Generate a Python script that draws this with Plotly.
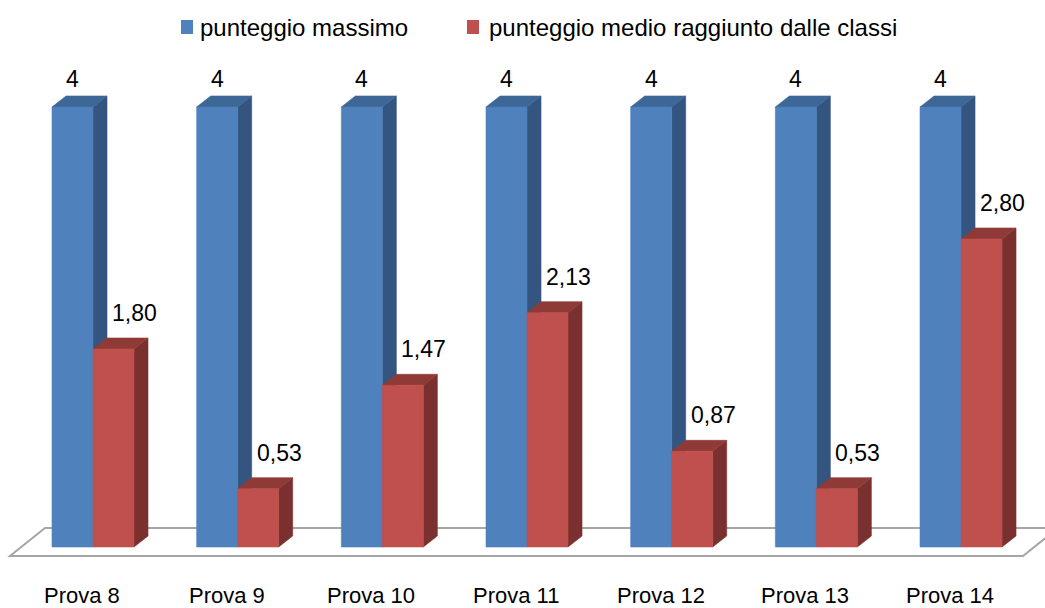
import plotly.graph_objects as go

# ---------------- data ----------------
categories = ["Prova 8", "Prova 9", "Prova 10", "Prova 11", "Prova 12", "Prova 13", "Prova 14"]
punteggio_massimo = [4, 4, 4, 4, 4, 4, 4]
punteggio_medio = [1.80, 0.53, 1.47, 2.13, 0.87, 0.53, 2.80]
series_names = ["punteggio massimo", "punteggio medio raggiunto dalle classi"]

# ---------------- layout geometry (pixels) ----------------
W, H = 1045, 608
X0_PX, STEP_PX = 93.0, 144.67      # first group centre, spacing
Y0_PX, UNIT_PX = 547.0, 110.0      # baseline, pixels per point
BAR_W = 41.0 / STEP_PX
DX = 14.0 / STEP_PX
DY = 11.0 / UNIT_PX
FAMILY = "Liberation Sans, Arial, sans-serif"
FONT = dict(family=FAMILY, size=23, color="#000000")
CAT_FONT = dict(family=FAMILY, size=22, color="#000000")
LEG_FONT = dict(family=FAMILY, size=24, color="#000000")

BLUE = dict(front="#4F81BD", side="#33557F", top="#3D6796")
RED = dict(front="#C0504D", side="#7A302E", top="#8F3A37")


def fmt(v):
    return str(int(v)) if float(v).is_integer() else f"{v:.2f}".replace(".", ",")


def faces(lefts, vals):
    fx, fy, sx, sy, tx, ty = [], [], [], [], [], []
    for xl, v in zip(lefts, vals):
        xr = xl + BAR_W
        fx += [xl, xr, xr, xl, xl, None]
        fy += [0, 0, v, v, 0, None]
        sx += [xr, xr + DX, xr + DX, xr, xr, None]
        sy += [0, DY, v + DY, v, 0, None]
        tx += [xl, xl + DX, xr + DX, xr, xl, None]
        ty += [v, v + DY, v + DY, v, v, None]
    return (fx, fy), (sx, sy), (tx, ty)


idx = list(range(len(categories)))
fig = go.Figure()

for lefts, vals, col in [([i - BAR_W for i in idx], punteggio_massimo, BLUE),
                         ([i for i in idx], punteggio_medio, RED)]:
    front, side, top = faces(lefts, vals)
    for (xs, ys), c in [(side, col["side"]), (top, col["top"]), (front, col["front"])]:
        fig.add_trace(go.Scatter(x=xs, y=ys, mode="lines", fill="toself", fillcolor=c,
                                 line=dict(color=c, width=0.6), hoverinfo="skip",
                                 showlegend=False))

annotations = []
# data labels
for i, v in zip(idx, punteggio_massimo):
    annotations.append(dict(x=i - BAR_W / 2, y=v, text=fmt(v), showarrow=False,
                            xanchor="center", yanchor="middle", yshift=28, font=FONT))
for i, v in zip(idx, punteggio_medio):
    annotations.append(dict(x=i + BAR_W / 2, y=v, text=fmt(v), showarrow=False,
                            xanchor="center", yanchor="middle", xshift=21, yshift=36, font=FONT))
# category labels
for i, c in zip(idx, categories):
    annotations.append(dict(x=i, y=(Y0_PX - 595) / UNIT_PX, text=c, showarrow=False,
                            xanchor="center", yanchor="middle", xshift=-11, font=CAT_FONT))

# legend (manual)
shapes = []
legend_items = [(181, 198, BLUE["front"], series_names[0]),
                (467, 487, RED["front"], series_names[1])]
for sq_x, tx_x, colr, name in legend_items:
    shapes.append(dict(type="rect", xref="paper", yref="paper",
                       x0=sq_x / W, x1=(sq_x + 12) / W, y0=1 - 34 / H, y1=1 - 20 / H,
                       fillcolor=colr, line=dict(width=0)))
    annotations.append(dict(xref="paper", yref="paper", x=tx_x / W, y=1 - 28 / H, text=name,
                            showarrow=False, xanchor="left", yanchor="middle", font=LEG_FONT))

# floor
yf = (Y0_PX - 556) / UNIT_PX
yb = (Y0_PX - 528) / UNIT_PX
xlf = idx[0] + (10 - X0_PX) / STEP_PX
xlb = idx[0] + (45 - X0_PX) / STEP_PX
xrf = idx[-1] + (1023 - (X0_PX + 6 * STEP_PX)) / STEP_PX
xrb = xrf + (xlb - xlf)
shapes.append(dict(type="path", xref="x", yref="y", layer="below",
                   path=f"M{xlf},{yf} L{xrf},{yf} L{xrb},{yb} L{xlb},{yb} Z",
                   line=dict(color="#A6A6A6", width=2), fillcolor="#FFFFFF"))

fig.update_layout(
    width=W, height=H, margin=dict(l=0, r=0, t=0, b=0),
    paper_bgcolor="white", plot_bgcolor="white", showlegend=False,
    xaxis=dict(range=[(0 - X0_PX) / STEP_PX, (W - X0_PX) / STEP_PX], visible=False, fixedrange=True),
    yaxis=dict(range=[(Y0_PX - H) / UNIT_PX, Y0_PX / UNIT_PX], visible=False, fixedrange=True),
    annotations=annotations, shapes=shapes,
)

fig.write_html("out.html", config={"displayModeBar": False},
               post_script="document.body.style.margin='0';")
